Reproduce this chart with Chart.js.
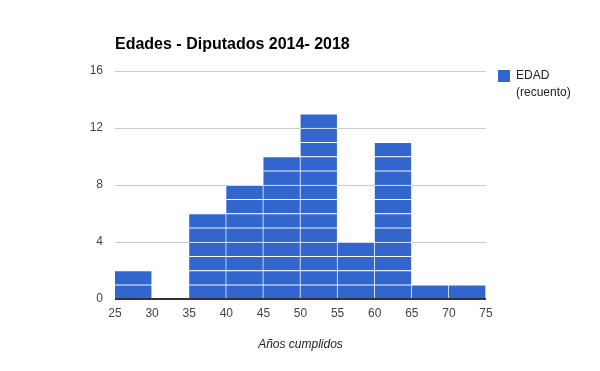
<!DOCTYPE html>
<html>
<head>
<meta charset="utf-8">
<script src="https://cdn.jsdelivr.net/npm/chart.js@4.4.1/dist/chart.umd.min.js"></script>
<style>
  html, body { margin: 0; padding: 0; background: #fff; }
  #wrap { width: 600px; height: 371px; position: relative; }
</style>
</head>
<body>
<div id="wrap"><canvas id="myChart" width="600" height="371"></canvas></div>
<script>
// datos del histograma
var bins = ['25-30', '30-35', '35-40', '40-45', '45-50', '50-55', '55-60', '60-65', '65-70', '70-75'];
var counts = [2, 0, 6, 8, 10, 13, 4, 11, 1, 1];
var xTicks = [25, 30, 35, 40, 45, 50, 55, 60, 65, 70, 75];
var yTicks = [0, 4, 8, 12, 16];
var titleText = 'Edades - Diputados 2014- 2018';
var legendLines = ['EDAD', '(recuento)'];
var xTitle = 'Años cumplidos';

var BLUE = '#3366cc';
var FONT = '"Liberation Sans", Arial, sans-serif';

// un bloque por cada unidad, como el histograma de Google
var maxCount = Math.max.apply(null, counts);
var datasets = [];
for (var k = 1; k <= maxCount; k++) {
    datasets.push({
        label: k === 1 ? legendLines.join(' ') : '',
        data: counts.map(function(c) { return c >= k ? 1 : null; }),
        backgroundColor: BLUE,
        borderColor: '#ffffff',
        borderWidth: { top: 1, right: 1, left: 0, bottom: 0 },
        borderSkipped: false,
        categoryPercentage: 1,
        barPercentage: 1,
        xAxisID: 'x'
    });
}

var extras = {
    id: 'extras',
    afterDraw: function(chart) {
        var c = chart.ctx, a = chart.chartArea;
        c.save();
        c.fillStyle = '#000';
        c.font = 'bold 16px ' + FONT;
        c.textBaseline = 'middle';
        c.textAlign = 'left';
        c.fillText(titleText, a.left, 45);

        c.fillStyle = BLUE;
        c.fillRect(498, 70, 12, 12);
        c.fillStyle = '#222';
        c.font = '12px ' + FONT;
        c.fillText(legendLines[0], 516, 76);
        c.fillText(legendLines[1], 516, 93);
        c.restore();
    }
};

var ctx = document.getElementById('myChart').getContext('2d');
var chart = new Chart(ctx, {
    type: 'bar',
    data: { labels: bins, datasets: datasets },
    plugins: [extras],
    options: {
        responsive: false,
        animation: false,
        layout: { padding: { top: 71, right: 114, left: 0, bottom: 0 } },
        plugins: {
            legend: { display: false },
            tooltip: { enabled: false }
        },
        scales: {
            x: {
                type: 'category',
                stacked: true,
                display: false,
                offset: true,
                grid: { display: false }
            },
            x2: {
                type: 'linear',
                position: 'bottom',
                offset: false,
                min: 25,
                max: 75,
                afterBuildTicks: function(s) { s.ticks = xTicks.map(function(v) { return { value: v }; }); },
                grid: { display: false, drawTicks: false, offset: false },
                border: { display: false },
                ticks: { color: '#444', font: { family: FONT, size: 12 }, padding: 7, maxRotation: 0, autoSkip: false },
                title: { display: true, text: xTitle, color: '#222', font: { family: FONT, size: 12, style: 'italic' }, padding: { top: 0, bottom: 19 } },
                afterFit: function(s) { s.height = 72; }
            },
            y: {
                stacked: true,
                min: 0,
                max: 16,
                afterBuildTicks: function(s) { s.ticks = yTicks.map(function(v) { return { value: v }; }); },
                border: { display: false },
                grid: {
                    drawTicks: false,
                    color: function(c) { return c.tick && c.tick.value === 0 ? '#333' : '#cccccc'; },
                    lineWidth: function(c) { return c.tick && c.tick.value === 0 ? 2 : 1; }
                },
                ticks: { color: '#444', font: { family: FONT, size: 12 }, padding: 12 },
                afterFit: function(s) { s.width = 115; }
            }
        }
    }
});
</script>
</body>
</html>
